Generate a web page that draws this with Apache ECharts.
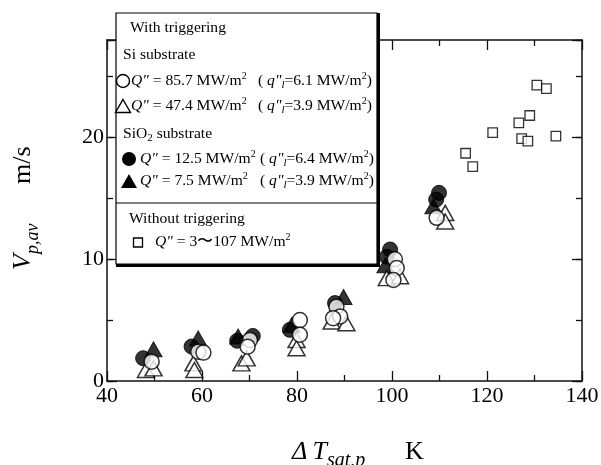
<!DOCTYPE html>
<html><head><meta charset="utf-8">
<script src="https://cdn.jsdelivr.net/npm/echarts@6/dist/echarts.min.js"></script>
<style>html,body{margin:0;padding:0;background:#fff}#c{width:601px;height:465px}</style>
</head><body><div id="c"></div>
<script>
// ---- data (ΔT_sat,p [K], V_p,av [m/s]) ----
const xTickLabels = [40, 60, 80, 100, 120, 140];
const yTickLabels = [0, 10, 20];

// SiO2 substrate, Q" = 7.5 MW/m2 (filled triangle)
const sio2Triangle = [[49.8,2.6],[59.2,3.5],[67.6,3.65],[78.9,4.6],[89.8,6.9],[98.6,9.5],[108.7,14.35]];
// SiO2 substrate, Q" = 12.5 MW/m2 (filled circle)
const sio2Circle = [[47.6,1.87],[57.8,2.83],[67.4,3.3],[70.7,3.7],[78.5,4.2],[88.0,6.4],[98.9,10.2],[99.6,10.8],[109.3,14.9],[109.9,15.45]];
// Si substrate, Q" = 47.4 MW/m2 (open triangle)
const siTriangle = [[48.2,0.9],[49.8,1.04],[58.2,1.45],[58.4,0.9],[68.3,1.45],[69.4,1.86],[79.9,3.37],[79.9,2.69],[87.3,4.88],[90.4,4.74],[98.9,8.45],[101.7,8.6],[111.2,13.8],[111.2,13.1]];
// Si substrate, Q" = 85.7 MW/m2 (open circle)
const siCircle = [[49.4,1.59],[59.2,2.41],[60.3,2.33],[70.1,3.37],[69.6,2.82],[80.6,5.0],[80.6,3.8],[88.3,6.1],[89.1,5.3],[87.6,5.16],[100.6,10.0],[101.0,9.27],[100.3,8.3],[109.4,13.4]];
// Without triggering, Q" = 3~107 MW/m2 (open square)
const noTrigger = [[115.5,18.7],[117.0,17.6],[121.2,20.4],[126.7,21.2],[129.0,21.8],[127.3,19.9],[128.6,19.7],[130.5,24.3],[132.5,24.0],[134.5,20.1]];

const FONT = "'Liberation Serif','Times New Roman',serif";
const AX = '#111';

function xAx(pos, showLabel) {
  return {
    type: 'value', position: pos, min: 40, max: 140, interval: 20,
    axisLine: { show: true, onZero: false, lineStyle: { color: AX, width: 1.5 } },
    axisTick: { show: true, inside: true, length: 10, lineStyle: { color: AX, width: 1.3 } },
    minorTick: { show: true, splitNumber: 2, length: 6, lineStyle: { color: AX, width: 1.3 } },
    axisLabel: { show: showLabel, margin: 4, fontFamily: FONT, fontSize: 22, color: '#000',
      formatter: v => xTickLabels.includes(v) ? String(v) : '' },
    splitLine: { show: false }, minorSplitLine: { show: false }
  };
}
function yAx(pos, step, len, showLabel, showLine) {
  return {
    type: 'value', position: pos, min: 0, max: 28, interval: step,
    axisLine: { show: showLine, onZero: false, lineStyle: { color: AX, width: 1.5 } },
    axisTick: { show: true, inside: true, length: len, lineStyle: { color: AX, width: 1.3 } },
    axisLabel: { show: showLabel, margin: 3, fontFamily: FONT, fontSize: 22, color: '#000',
      formatter: v => yTickLabels.includes(v) ? String(v) : '' },
    splitLine: { show: false }
  };
}

const openStyle = { color: '#fff', borderColor: '#000', borderWidth: 1.5 };
const fillStyle = { color: '#000', borderColor: '#000', borderWidth: 1 };

const FS = 15.6;
const base = { fontFamily: FONT, fontSize: FS, lineHeight: 20, fill: '#000', color: '#000' };
const rich = {
  n: { fontFamily: FONT, fontSize: FS, lineHeight: 20, color: '#000' },
  i: { fontFamily: FONT, fontSize: FS, lineHeight: 20, fontStyle: 'italic', color: '#000' },
  sup: { fontFamily: FONT, fontSize: 10, lineHeight: 10, verticalAlign: 'top', color: '#000' },
  sub: { fontFamily: FONT, fontSize: 11, lineHeight: 11, verticalAlign: 'bottom', color: '#000' },
  isub: { fontFamily: FONT, fontSize: 11, lineHeight: 11, verticalAlign: 'bottom', fontStyle: 'italic', color: '#000' }
};
function T(x, y, text) {
  return { type: 'text', x: x, y: y, z: 102,
    style: Object.assign({}, base, { text: text, rich: rich, align: 'left', verticalAlign: 'middle' }) };
}
function qLine(val) { return '{i|Q"}{n| = ' + val + ' MW/m}{sup|2}'; }
function qlLine(val) { return '{n|( }{i|q"}{isub|l}{n|=' + val + ' MW/m}{sup|2}{n|)}'; }

const tri = (cx, cy, w, h) => [[cx, cy - h / 2], [cx + w / 2, cy + h / 2], [cx - w / 2, cy + h / 2]];

const graphics = [
  // legend box with shadow
  { type: 'rect', z: 100, shape: { x: 116, y: 13, width: 264, height: 254 }, style: { fill: '#000' } },
  { type: 'rect', z: 101, shape: { x: 116, y: 13, width: 261, height: 251 }, style: { fill: '#fff', stroke: '#000', lineWidth: 1.2 } },
  { type: 'line', z: 102, shape: { x1: 116, y1: 203, x2: 377, y2: 203 }, style: { stroke: '#000', lineWidth: 1.2 } },
  T(130, 28, '{n|With triggering}'),
  T(123, 55, '{n|Si substrate}'),
  { type: 'circle', z: 102, shape: { cx: 123, cy: 81, r: 6.5 }, style: { fill: '#fff', stroke: '#000', lineWidth: 1.4 } },
  T(131, 81, qLine('85.7')), T(258, 81, qlLine('6.1')),
  { type: 'polygon', z: 102, shape: { points: tri(123, 106, 15, 13) }, style: { fill: '#fff', stroke: '#000', lineWidth: 1.4 } },
  T(131, 106, qLine('47.4')), T(258, 106, qlLine('3.9')),
  T(123, 134, '{n|SiO}{sub|2}{n| substrate}'),
  { type: 'circle', z: 102, shape: { cx: 129, cy: 159, r: 7 }, style: { fill: '#000' } },
  T(140, 159, qLine('12.5')), T(260, 159, qlLine('6.4')),
  { type: 'polygon', z: 102, shape: { points: tri(129, 181, 16, 14) }, style: { fill: '#000' } },
  T(140, 181, qLine('7.5')), T(260, 181, qlLine('3.9')),
  T(129, 219, '{n|Without triggering}'),
  { type: 'rect', z: 102, shape: { x: 133.5, y: 238, width: 9, height: 9 }, style: { fill: '#fff', stroke: '#000', lineWidth: 1.3 } },
  T(155, 242, '{i|Q"}{n| = 3〜107 MW/m}{sup|2}'),
  // axis names
  { type: 'text', z: 102, x: 292, y: 452,
    style: { text: '{a|Δ\u2009T}{b|sat,p}', align: 'left', verticalAlign: 'middle',
      rich: { a: { fontFamily: FONT, fontSize: 26, lineHeight: 30, fontStyle: 'italic', color: '#000' },
              b: { fontFamily: FONT, fontSize: 20, lineHeight: 20, fontStyle: 'italic', verticalAlign: 'bottom', color: '#000', padding: [0, 0, -4, 0] } } } },
  { type: 'text', z: 102, x: 405, y: 452,
    style: { text: 'K', align: 'left', verticalAlign: 'middle', fontFamily: FONT, fontSize: 26, fill: '#000' } },
  { type: 'text', z: 102, x: 23, y: 270, rotation: Math.PI / 2,
    style: { text: '{a|V}{b|p,av}', align: 'left', verticalAlign: 'middle',
      rich: { a: { fontFamily: FONT, fontSize: 26, lineHeight: 30, fontStyle: 'italic', color: '#000' },
              b: { fontFamily: FONT, fontSize: 18, lineHeight: 18, fontStyle: 'italic', verticalAlign: 'bottom', color: '#000', padding: [0, 0, -4, 0] } } } },
  { type: 'text', z: 102, x: 23, y: 184, rotation: Math.PI / 2,
    style: { text: 'm/s', align: 'left', verticalAlign: 'middle', fontFamily: FONT, fontSize: 26, fill: '#000' } }
];

const chart = echarts.init(document.getElementById('c'), null, { renderer: 'canvas' });
chart.setOption({
  backgroundColor: '#fff',
  animation: false,
  grid: { left: 107, right: 19, top: 40, bottom: 84, containLabel: false, outerBoundsMode: 'none' },
  xAxis: [xAx('bottom', true), xAx('top', false)],
  yAxis: [yAx('left', 10, 10, true, true), yAx('left', 5, 6, false, false), yAx('right', 10, 10, false, true), yAx('right', 5, 6, false, false)],
  series: [
    { name: 'SiO2 7.5', type: 'scatter', data: sio2Triangle, symbol: 'triangle', symbolSize: [17, 15], itemStyle: fillStyle, z: 2 },
    { name: 'SiO2 12.5', type: 'scatter', data: sio2Circle, symbol: 'circle', symbolSize: 15, itemStyle: fillStyle, z: 2 },
    { name: 'Si 47.4', type: 'scatter', data: siTriangle, symbol: 'triangle', symbolSize: [17, 15], itemStyle: openStyle, z: 3 },
    { name: 'Si 85.7', type: 'scatter', data: siCircle, symbol: 'circle', symbolSize: 15, itemStyle: openStyle, z: 3 },
    { name: 'No trigger', type: 'scatter', data: noTrigger, symbol: 'rect', symbolSize: 9.5, itemStyle: { color: '#fff', borderColor: '#000', borderWidth: 1.3 }, z: 3 }
  ],
  graphic: graphics
});
</script>
</body></html>
